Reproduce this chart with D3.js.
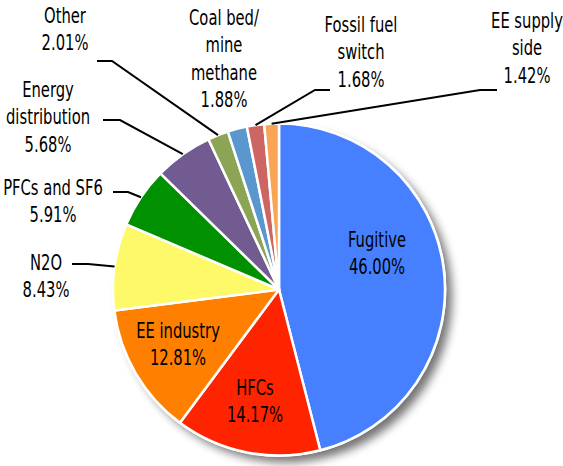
<!DOCTYPE html>
<html>
<head>
<meta charset="utf-8">
<script src="https://cdn.jsdelivr.net/npm/d3@7"></script>
<style>
  html, body { margin: 0; padding: 0; background: #fff; }
  svg { display: block; }
  text { font-family: "DejaVu Sans Condensed", "Liberation Sans Narrow", sans-serif; font-size: 20.5px; fill: #000; }
</style>
</head>
<body>
<svg id="chart" width="563" height="466"></svg>
<script>
// Emission reduction shares by source, clockwise from 12 o'clock
const categories = [
  "Fugitive", "HFCs", "EE industry", "N2O", "PFCs and SF6",
  "Energy\ndistribution", "Other", "Coal bed/\nmine\nmethane",
  "Fossil fuel\nswitch", "EE supply\nside"
];
const shares = [46.00, 14.17, 12.81, 8.43, 5.91, 5.68, 2.01, 1.88, 1.68, 1.42];
const colors = [
  "#4680ff", "#ff2400", "#ff8000", "#fdf968", "#009000",
  "#725b91", "#8ba554", "#5b97cf", "#cd6562", "#f9a556"
];

// Label placement: text centre x, first baseline y, and where the leader's elbow sits
const labelLayout = [
  { x: 377, y: 247 },
  { x: 255, y: 395 },
  { x: 178, y: 338 },
  { x: 46,  y: 270, lead: [72, 264],  elbow: [88, 264] },
  { x: 53,  y: 195, lead: [113, 192], elbow: [128, 192] },
  { x: 48,  y: 97,  lead: [103, 120], elbow: [120, 120] },
  { x: 65,  y: 23,  lead: [97, 61],   elbow: [112, 61] },
  { x: 224, y: 25 },
  { x: 361, y: 32,  lead: [330, 90],  elbow: [315, 90] },
  { x: 527, y: 28,  lead: [497, 90],  elbow: [480, 90] }
];

const cx = 279, cy = 289.5, radius = 166;
const lineGap = 27.5;
const narrow = 0.8;   // horizontal squeeze for a condensed look

const svg = d3.select("#chart");

const defs = svg.append("defs");
const shadow = defs.append("filter")
  .attr("id", "pieShadow")
  .attr("x", "-20%").attr("y", "-20%")
  .attr("width", "140%").attr("height", "140%");
shadow.append("feGaussianBlur").attr("in", "SourceAlpha").attr("stdDeviation", 5).attr("result", "blur");
shadow.append("feOffset").attr("in", "blur").attr("dx", 7).attr("dy", 7).attr("result", "off");
shadow.append("feComponentTransfer").attr("in", "off")
  .append("feFuncA").attr("type", "linear").attr("slope", 0.55);

const data = categories.map((c, i) => ({ name: c, value: shares[i], color: colors[i], layout: labelLayout[i] }));

const pie = d3.pie().sort(null).value(d => d.value).startAngle(0).endAngle(2 * Math.PI);
const arcs = pie(data);
const arc = d3.arc().innerRadius(0).outerRadius(radius);

const g = svg.append("g").attr("transform", `translate(${cx},${cy})`);

// Soft drop shadow under the whole pie
g.append("circle").attr("r", radius).attr("fill", "#000").attr("filter", "url(#pieShadow)");
g.append("circle").attr("r", radius + 1.5).attr("fill", "#fff");

g.selectAll("path.slice")
  .data(arcs)
  .join("path")
  .attr("class", "slice")
  .attr("d", arc)
  .attr("fill", d => d.data.color)
  .attr("stroke", "#fff")
  .attr("stroke-width", 2.5)
  .attr("stroke-linejoin", "round");

// Leader lines from the label elbow to the middle of each slice's rim
const rimPoint = d => {
  const a = (d.startAngle + d.endAngle) / 2;
  return [cx + radius * Math.sin(a), cy - radius * Math.cos(a)];
};
svg.selectAll("polyline.leader")
  .data(arcs.filter(d => d.data.layout.lead))
  .join("polyline")
  .attr("class", "leader")
  .attr("points", d => [d.data.layout.lead, d.data.layout.elbow, rimPoint(d)].map(p => p.join(",")).join(" "))
  .attr("fill", "none")
  .attr("stroke", "#000")
  .attr("stroke-width", 2);

// Category name lines followed by the share
const labels = svg.selectAll("text.label")
  .data(arcs)
  .join("text")
  .attr("class", "label")
  .attr("text-anchor", "middle")
  .attr("transform", d => `translate(${d.data.layout.x},0) scale(${narrow},1)`);

labels.each(function(d) {
  const lines = d.data.name.split("\n").concat([d.data.value.toFixed(2) + "%"]);
  d3.select(this).selectAll("tspan")
    .data(lines)
    .join("tspan")
    .attr("x", 0)
    .attr("y", (l, i) => d.data.layout.y + i * lineGap)
    .text(l => l);
});
</script>
</body>
</html>
